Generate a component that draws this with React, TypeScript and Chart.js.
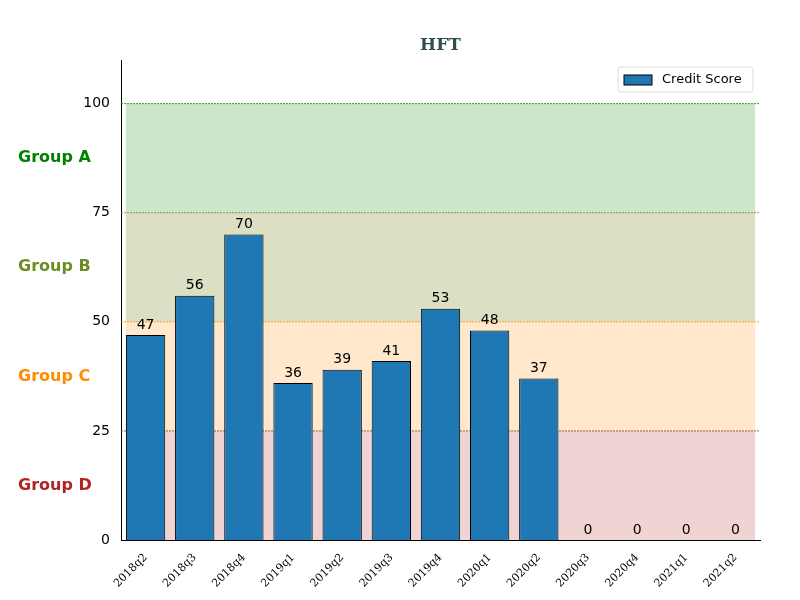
import { useEffect, useRef } from 'react'
import { Chart, registerables } from 'chart.js'

Chart.register(...registerables)

const quarters = ['2018q2', '2018q3', '2018q4', '2019q1', '2019q2', '2019q3', '2019q4', '2020q1', '2020q2', '2020q3', '2020q4', '2021q1', '2021q2']
const scores = [47, 56, 70, 36, 39, 41, 53, 48, 37, 0, 0, 0, 0]
const groupNames = ['Group A', 'Group B', 'Group C', 'Group D']
const groupColors = ['green', 'olivedrab', 'darkorange', 'firebrick']
const bandFills = ['rgba(0,128,0,0.2)', 'rgba(128,140,40,0.28)', 'rgba(255,140,0,0.2)', 'rgba(178,34,34,0.2)']
const lineColors = ['green', '#8a7a20', 'darkorange', '#8b3a2a']
const bandTops = [100, 75, 50, 25]

const overlay = {
  id: 'overlay',
  beforeDatasetsDraw(chart: any) {
    const { ctx, chartArea, scales } = chart
    const x = scales.x, y = scales.y
    const half = (x.getPixelForValue(1) - x.getPixelForValue(0)) * 0.4
    const l = x.getPixelForValue(0) - half
    const r = x.getPixelForValue(quarters.length - 1) + half
    ctx.save()
    bandTops.forEach((top, i) => {
      const y1 = y.getPixelForValue(top)
      const y2 = y.getPixelForValue(top - 25)
      ctx.fillStyle = bandFills[i]
      ctx.fillRect(l, y1, r - l, y2 - y1)
    })
    bandTops.forEach((top, i) => {
      const py = y.getPixelForValue(top)
      ctx.strokeStyle = lineColors[i]
      ctx.lineWidth = 0.8
      ctx.setLineDash([2, 1])
      ctx.beginPath()
      ctx.moveTo(chartArea.left, py)
      ctx.lineTo(chartArea.right, py)
      ctx.stroke()
    })
    ctx.restore()
  },
  afterDatasetsDraw(chart: any) {
    const { ctx, chartArea, scales } = chart
    const x = scales.x, y = scales.y
    ctx.save()
    ctx.font = '14px "DejaVu Sans"'
    ctx.fillStyle = '#000'
    ctx.textAlign = 'center'
    ctx.textBaseline = 'bottom'
    scores.forEach((v, i) => {
      ctx.fillText(String(v), x.getPixelForValue(i), y.getPixelForValue(v) - 3)
    })
    ctx.font = 'bold 16px "DejaVu Sans"'
    ctx.textAlign = 'left'
    ctx.textBaseline = 'middle'
    bandTops.forEach((top, i) => {
      ctx.fillStyle = groupColors[i]
      ctx.fillText(groupNames[i], 18, y.getPixelForValue(top - 12.5))
    })
    ctx.font = 'bold 17px "DejaVu Serif"'
    ctx.fillStyle = '#2f4f4f'
    ctx.textAlign = 'center'
    ctx.fillText('HFT', (chartArea.left + chartArea.right) / 2, 46)
    // legend
    const lx = chartArea.right - 142, ly = chartArea.top + 7
    ctx.fillStyle = 'rgba(255,255,255,0.8)'
    ctx.strokeStyle = '#ddd'
    ctx.lineWidth = 1
    ctx.beginPath()
    ctx.roundRect(lx, ly, 135, 25, 3)
    ctx.fill()
    ctx.stroke()
    ctx.fillStyle = '#1f77b4'
    ctx.strokeStyle = '#000'
    ctx.fillRect(lx + 6, ly + 8, 28, 10)
    ctx.strokeRect(lx + 6, ly + 8, 28, 10)
    ctx.fillStyle = '#000'
    ctx.font = '13px "DejaVu Sans"'
    ctx.textAlign = 'left'
    ctx.fillText('Credit Score', lx + 44, ly + 13)
    ctx.restore()
  },
}

export default function App() {
  const chartRef = useRef<HTMLCanvasElement>(null)

  useEffect(() => {
    if (!chartRef.current) return
    document.body.style.margin = '0'
    const chart = new Chart(chartRef.current, {
      type: 'bar',
      data: {
        labels: quarters,
        datasets: [{
          label: 'Credit Score',
          data: scores,
          backgroundColor: '#1f77b4',
          borderColor: '#000',
          borderWidth: 1,
          barPercentage: 0.8,
          categoryPercentage: 1,
        }],
      },
      options: {
        responsive: false,
        animation: false,
        layout: { padding: { top: 60, right: 40, left: 0, bottom: 0 } },
        plugins: { legend: { display: false }, tooltip: { enabled: false } },
        scales: {
          x: {
            offset: true,
            grid: { display: false },
            border: { color: '#000' },
            ticks: { color: '#000', maxRotation: 45, minRotation: 45, font: { family: 'DejaVu Serif', size: 11 } },
            afterFit: (s: any) => { s.height = 60 },
          },
          y: {
            min: 0,
            max: 110,
            grid: { display: false },
            border: { color: '#000' },
            afterBuildTicks: (s: any) => { s.ticks = [0, 25, 50, 75, 100].map((v) => ({ value: v })) },
            ticks: { color: '#000', font: { family: 'DejaVu Sans', size: 14 } },
            afterFit: (s: any) => { s.width = 121 },
          },
        },
      },
      plugins: [overlay],
    })
    return () => chart.destroy()
  }, [])

  return <canvas ref={chartRef} width={800} height={600} style={{ display: 'block' }} />
}
